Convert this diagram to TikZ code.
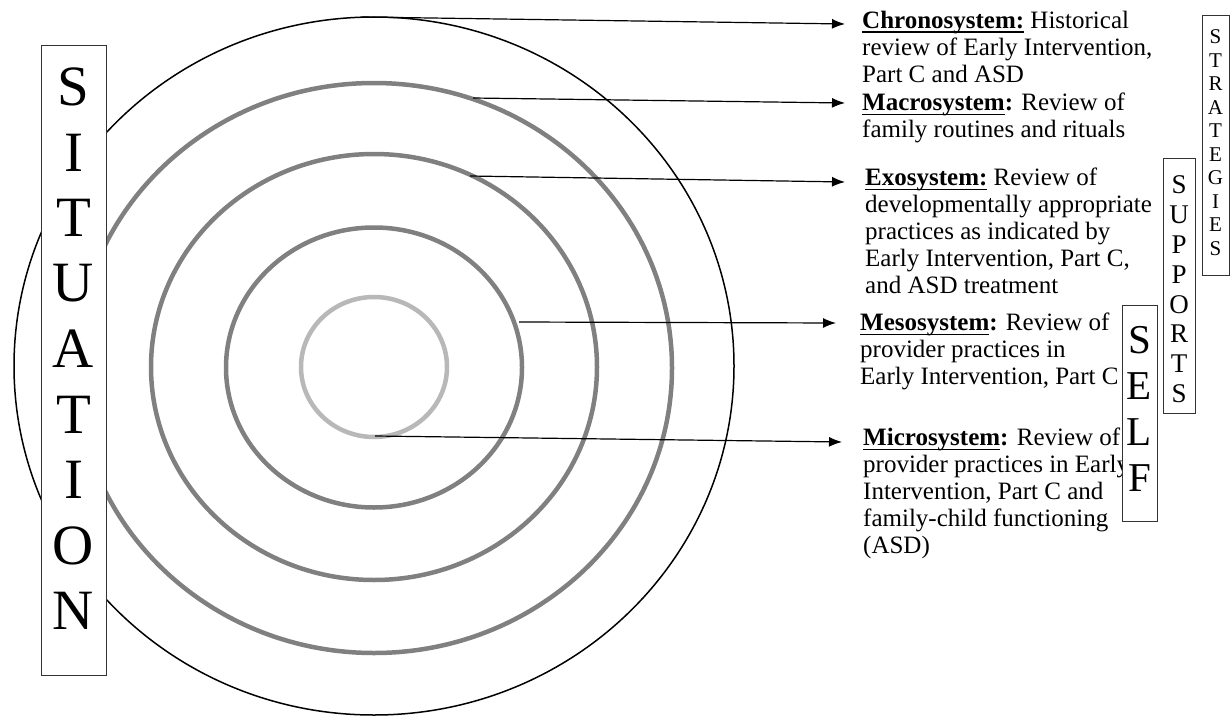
\documentclass[tikz,border=0pt]{standalone}
\usepackage{fontspec}
\setmainfont{Liberation Serif}
\usetikzlibrary{arrows.meta}

\newcommand\sysname[1]{\setbox0=\hbox{\bfseries #1}\rlap{\rule[-4.5pt]{\wd0}{1.6pt}}\box0\relax}

\begin{document}
\begin{tikzpicture}[
  x=1pt,
  y=-1pt,
  outer/.style={draw=black,line width=1.5pt},
  ring/.style={draw=black!50,line width=4.5pt},
  core/.style={draw=black!28,line width=4.5pt},
  link/.style={-{Latex[length=13pt,width=10pt]},line width=1.2pt},
  desc/.style={align=left,anchor=north west,inner sep=0pt,font=\fontsize{25pt}{26.8pt}\selectfont},
  tag/.style={draw=black!80,line width=0.9pt,fill=white,inner sep=0pt},
  letter/.style={inner sep=0pt}
]
\useasboundingbox (0,0) rectangle (1231,717);
\draw[outer] (374,366) ellipse [x radius=360,y radius=349];
\draw[ring] (374,368) ellipse [x radius=298,y radius=285];
\draw[ring] (374,367) ellipse [x radius=223,y radius=213];
\draw[ring] (374,367.5) ellipse [x radius=148,y radius=140];
\draw[core] (374,367) ellipse [x radius=73,y radius=70];

\coordinate (chronoPt) at (362,17);
\coordinate (macroPt) at (473,98);
\coordinate (exoPt) at (470,176);
\coordinate (mesoPt) at (519,322);
\coordinate (microPt) at (375,436);

\node[desc] (chrono) at (862,11) {\sysname{Chronosystem:} Historical\\review of Early Intervention,\\Part C and ASD};
\node[desc] (macro) at (862,93) {\sysname{Macrosystem}\textbf{:} Review of\\family routines and rituals};
\node[desc] (exo) at (865,168) {\sysname{Exosystem:} Review of\\developmentally appropriate\\practices as indicated by\\Early Intervention, Part C,\\and ASD treatment};
\node[desc] (meso) at (860,313) {\sysname{Mesosystem}\textbf{:} Review of\\provider practices in\\Early Intervention, Part C};
\node[desc] (micro) at (863,428) {\sysname{Microsystem}\textbf{:} Review of\\provider practices in Early\\Intervention, Part C and\\family-child functioning\\(ASD)};

\draw[link] (chronoPt) -- ([shift={(-17,13)}]chrono.north west);
\draw[link] (macroPt) -- ([shift={(-17,10)}]macro.north west);
\draw[link] (exoPt) -- ([shift={(-20,14)}]exo.north west);
\draw[link] (mesoPt) -- ([shift={(-24,10)}]meso.north west);
\draw[link] (microPt) -- ([shift={(-21,14)}]micro.north west);

\node[tag,minimum width=35pt,minimum height=216pt] (self) at (1139.5,413) {};
\foreach \l [count=\i] in {S,E,L,F}
  \node[letter,font=\fontsize{41pt}{41pt}\selectfont] (self\i) at (1139.5,{340+46*(\i-1)}) {\l};

\node[tag,minimum width=32pt,minimum height=255pt] (supports) at (1179,285.5) {};
\foreach \l [count=\i] in {S,U,P,P,O,R,T,S}
  \node[letter,font=\fontsize{27pt}{27pt}\selectfont] (sup\i) at (1179,{185+29.8*(\i-1)}) {\l};

\node[tag,minimum width=27pt,minimum height=260pt] (strategies) at (1215.5,145) {};
\foreach \l [count=\i] in {S,T,R,A,T,E,G,I,E,S}
  \node[letter,font=\fontsize{21pt}{21pt}\selectfont] (str\i) at (1215.5,{37+23.5*(\i-1)}) {\l};

\node[tag,minimum width=65pt,minimum height=630pt] (situation) at (73.5,360) {};
\foreach \l [count=\i] in {S,I,T,U,A,T,I,O,N}
  \node[letter,font=\fontsize{57pt}{57pt}\selectfont] (sit\i) at (73.5,{87+65.5*(\i-1)}) {\l};
\end{tikzpicture}
\end{document}
